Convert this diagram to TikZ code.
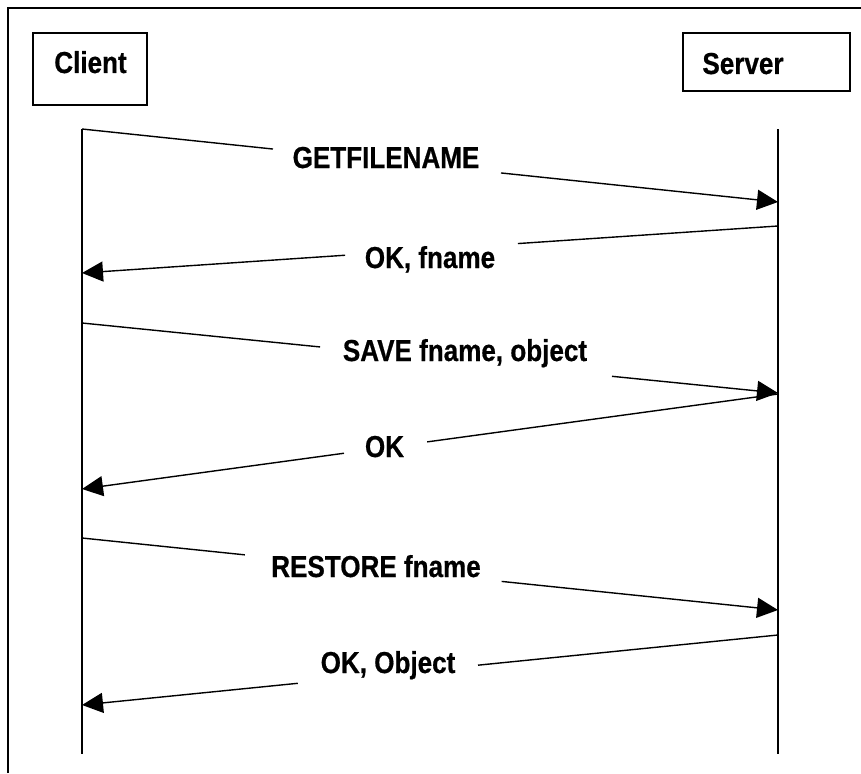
\documentclass[tikz,border=0pt]{standalone}
\usepackage{fontspec}
\setmainfont{Liberation Sans}[FakeStretch=0.86,FakeBold=0.6]
\usetikzlibrary{arrows.meta,calc}

\begin{document}
\begin{tikzpicture}[x=1pt,y=-1pt,
  lbl/.style={font=\fontsize{30.3}{33}\selectfont\bfseries, inner sep=0pt, anchor=base},
  msg/.style={line width=1.4pt},
  tipmsg/.style={msg, -{Triangle[length=21pt,width=20pt]}},
  partbox/.style={draw, line width=1.6pt, inner sep=0pt},
  frameline/.style={line width=1.6pt},
  lifeline/.style={line width=1.5pt}]

\useasboundingbox (0,0) rectangle (861,773);

% outer frame (left and top edges)
\coordinate (fbl) at (8,773);
\coordinate (ftl) at (8,8);
\coordinate (ftr) at (861,8);
\draw[frameline] (fbl) -- (ftl) -- (ftr);

% participants
\node[partbox, minimum width=114pt, minimum height=72pt] (clientbox) at (90,69) {};
\node[lbl] (clientlbl) at (90.5,73) {Client};
\node[partbox, minimum width=167pt, minimum height=58pt] (serverbox) at (766.5,62) {};
\node[lbl] (serverlbl) at (743,74) {Server};

% lifelines
\coordinate (ctop) at (82,129);
\coordinate (cbot) at (82,754);
\coordinate (stop) at (778,129);
\coordinate (sbot) at (778,754);
\draw[lifeline] (ctop) -- (cbot);
\draw[lifeline] (stop) -- (sbot);

% 1: GETFILENAME
\coordinate (m1s) at (82,129);
\coordinate (m1e) at (778,202);
\draw[msg] (m1s) -- ($(m1s)!0.2744!(m1e)$);
\draw[tipmsg] ($(m1s)!0.602!(m1e)$) -- (m1e);
\node[lbl] (m1) at (386,168) {GETFILENAME};

% 2: OK, fname
\coordinate (m2s) at (778,226);
\coordinate (m2e) at (82,273);
\draw[msg] (m2s) -- ($(m2s)!0.3736!(m2e)$);
\draw[tipmsg] ($(m2s)!0.622!(m2e)$) -- (m2e);
\node[lbl] (m2) at (430,268) {OK, fname};

% 3: SAVE fname, object
\coordinate (m3s) at (82,323);
\coordinate (m3e) at (778,393);
\draw[msg] (m3s) -- ($(m3s)!0.342!(m3e)$);
\draw[tipmsg] ($(m3s)!0.7615!(m3e)$) -- (m3e);
\node[lbl] (m3) at (465,361) {SAVE fname, object};

% 4: OK
\coordinate (m4s) at (778,394);
\coordinate (m4e) at (82,489);
\draw[msg] (m4s) -- ($(m4s)!0.504!(m4e)$);
\draw[tipmsg] ($(m4s)!0.6236!(m4e)$) -- (m4e);
\node[lbl] (m4) at (384.5,457) {OK};

% 5: RESTORE fname
\coordinate (m5s) at (82,538);
\coordinate (m5e) at (778,610);
\draw[msg] (m5s) -- ($(m5s)!0.234!(m5e)$);
\draw[tipmsg] ($(m5s)!0.603!(m5e)$) -- (m5e);
\node[lbl] (m5) at (376,577) {RESTORE fname};

% 6: OK, Object
\coordinate (m6s) at (778,635);
\coordinate (m6e) at (82,705);
\draw[msg] (m6s) -- ($(m6s)!0.431!(m6e)$);
\draw[tipmsg] ($(m6s)!0.690!(m6e)$) -- (m6e);
\node[lbl] (m6) at (388,673) {OK, Object};

\end{tikzpicture}
\end{document}
